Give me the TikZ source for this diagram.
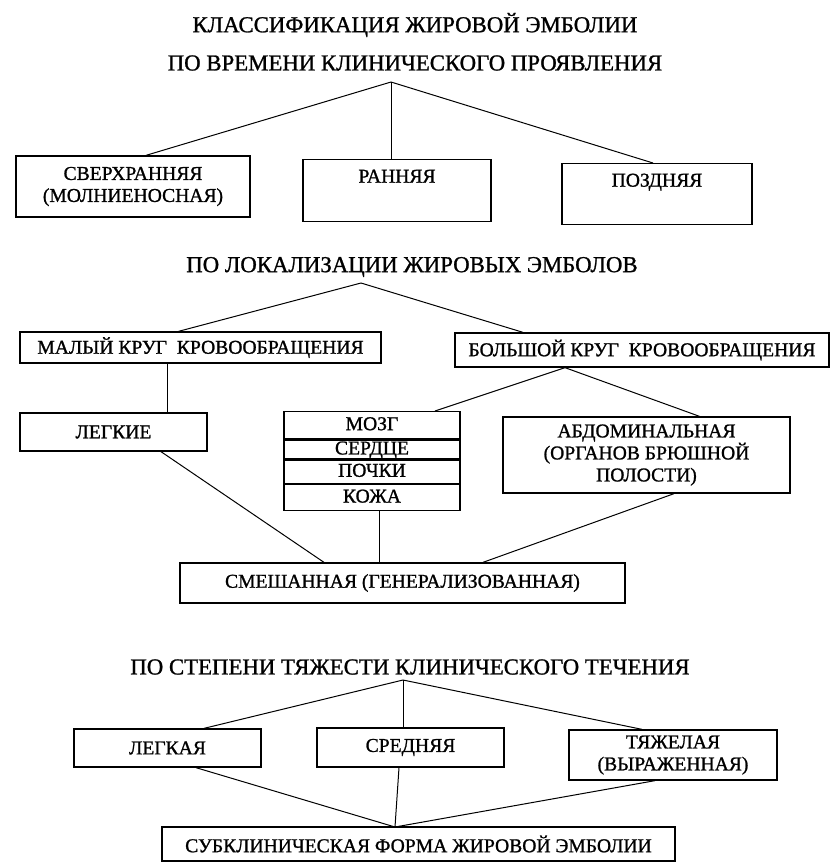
\documentclass[tikz,border=0pt]{standalone}
\usepackage{fontspec}
\setmainfont{Liberation Serif}[FakeBold=1.1]
\usepackage{tikz}
\usetikzlibrary{positioning,calc}

\begin{document}
\begin{tikzpicture}[x=1pt,y=-1pt,
    txt/.style={font=\fontsize{19.6}{22}\selectfont},
    head/.style={font=\fontsize{22.8}{26}\selectfont},
    box/.style={txt,draw,line width=1.3pt,inner sep=0pt,align=center},
    cell/.style={box,minimum width=176pt,text height=12pt,text depth=2pt},
    link/.style={line width=1pt}]
  \useasboundingbox (0,0) rectangle (832,863);
  % headings
  \node[head] (title) at (415,25) {КЛАССИФИКАЦИЯ ЖИРОВОЙ ЭМБОЛИИ};
  \node[head] (time) at (415,63) {ПО ВРЕМЕНИ КЛИНИЧЕСКОГО ПРОЯВЛЕНИЯ};
  \node[head] (loc) at (412,267) {ПО ЛОКАЛИЗАЦИИ ЖИРОВЫХ ЭМБОЛОВ};
  \node[head] (sev) at (410,667) {ПО СТЕПЕНИ ТЯЖЕСТИ КЛИНИЧЕСКОГО ТЕЧЕНИЯ};
  \coordinate (apexT) at (391,82);
  \coordinate (apexL) at (361,283);
  \coordinate (apexS) at (403,680);
  \coordinate (join) at (395,827);

  % time of onset
  \node[box,minimum width=234pt,minimum height=61pt] (superearly) at (133,186.5)
    {СВЕРХРАННЯЯ\\(МОЛНИЕНОСНАЯ)};
  \node[box,minimum width=188pt,text height=23pt,text depth=39pt,anchor=north] (early) at (397,159) {РАННЯЯ};
  \node[box,minimum width=190pt,text height=23pt,text depth=38pt,anchor=north] (late) at (657,163) {ПОЗДНЯЯ};
  \draw[link] (apexT) -- ([xshift=13pt]superearly.north);
  \draw[link] (apexT) -- (apexT |- early.north);
  \draw[link] (apexT) -- ([xshift=-4pt]late.north);

  % localisation
  \node[box,minimum width=361pt,minimum height=31pt] (small) at (200.5,347.5) {МАЛЫЙ КРУГ\ \ КРОВООБРАЩЕНИЯ};
  \node[box,minimum width=374pt,minimum height=34pt] (large) at (642,350) {БОЛЬШОЙ КРУГ\ \ КРОВООБРАЩЕНИЯ};
  \node[box,minimum width=187pt,minimum height=38pt] (lung) at (113.5,432) {ЛЕГКИЕ};
  \node[cell,minimum height=27pt,anchor=north] (brain) at (372,411) {МОЗГ};
  \node[cell,minimum height=19pt,below=0pt of brain] (heart) {СЕРДЦЕ};
  \node[cell,minimum height=23pt,below=0pt of heart] (kidney) {ПОЧКИ};
  \node[cell,minimum height=26pt,below=0pt of kidney] (skin) {КОЖА};
  \node[box,minimum width=287pt,minimum height=76pt] (abdom) at (646.5,455)
    {АБДОМИНАЛЬНАЯ\\(ОРГАНОВ БРЮШНОЙ\\ПОЛОСТИ)};
  \node[box,minimum width=445pt,minimum height=40pt] (mixed) at (402.5,583) {СМЕШАННАЯ (ГЕНЕРАЛИЗОВАННАЯ)};
  \draw[link] (apexL) -- ([xshift=-22pt]small.north);
  \draw[link] (apexL) -- ([xshift=-119pt]large.north);
  \draw[link] ([xshift=-33pt]small.south) -- ([xshift=-33pt]small.south |- lung.north);
  \draw[link] ([xshift=-77pt]large.south) -- ([xshift=63pt]brain.north);
  \draw[link] ([xshift=-77pt]large.south) -- ([xshift=53pt]abdom.north);
  \draw[link] ([xshift=47.5pt]lung.south) -- ([xshift=-78.5pt]mixed.north);
  \draw[link] ([xshift=7pt]skin.south) -- ([xshift=7pt]skin.south |- mixed.north);
  \draw[link] ([xshift=27.5pt]abdom.south) -- ([xshift=80.5pt]mixed.north);

  % severity
  \node[box,minimum width=187pt,minimum height=38pt] (mild) at (167.5,748) {ЛЕГКАЯ};
  \node[box,minimum width=187pt,minimum height=39pt] (medium) at (410.5,747.5) {СРЕДНЯЯ};
  \node[box,minimum width=208pt,minimum height=50pt] (severe) at (673,755) {ТЯЖЕЛАЯ\\(ВЫРАЖЕННАЯ)};
  \node[box,minimum width=513pt,minimum height=34pt] (subclin) at (418.5,844) {СУБКЛИНИЧЕСКАЯ ФОРМА ЖИРОВОЙ ЭМБОЛИИ};
  \draw[link] (apexS) -- ([xshift=36.5pt]mild.north);
  \draw[link] (apexS) -- (apexS |- medium.north);
  \draw[link] (apexS) -- ([xshift=-31pt]severe.north);
  \foreach \b/\s in {mild/28.5,medium/-11.5,severe/-18}{
    \draw[link] ([xshift=\s pt]\b.south) -- (join);
  }
\end{tikzpicture}
\end{document}
